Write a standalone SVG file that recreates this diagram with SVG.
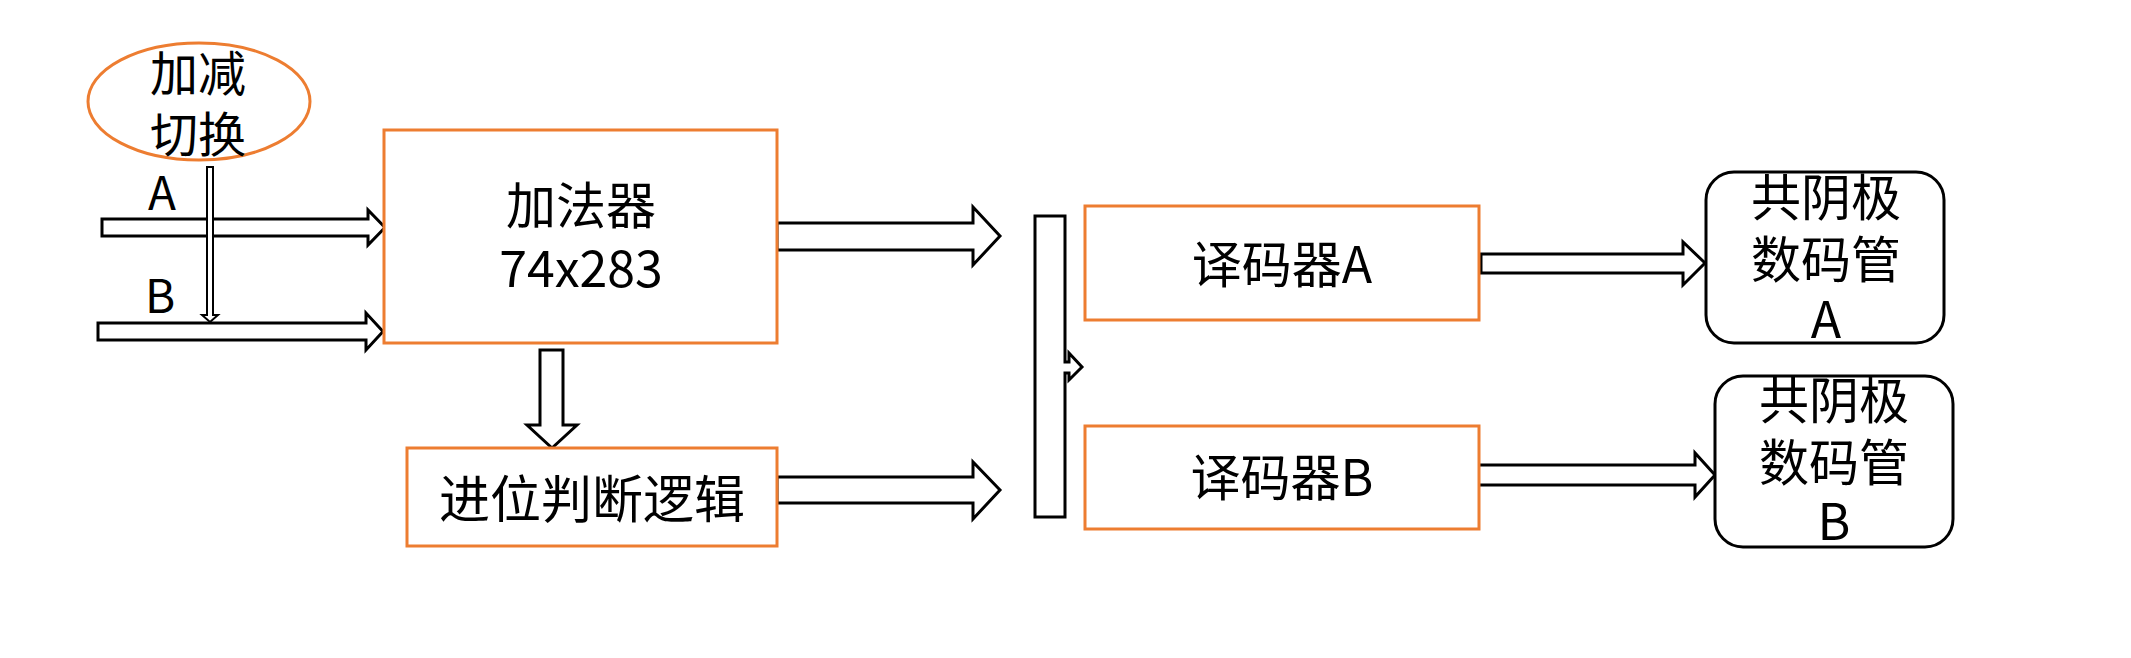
<svg xmlns="http://www.w3.org/2000/svg" width="2131" height="658" viewBox="0 0 2131 658">
<style>
.ob{fill:#fff;stroke:#ED7D31;stroke-width:3}
.rb{fill:#fff;stroke:#000;stroke-width:3}
.ar{fill:#fff;stroke:#000;stroke-width:3;stroke-linejoin:miter}
.tx{font-family:"Noto Sans CJK SC","Noto Sans",sans-serif;fill:#000;text-anchor:middle}
</style>
<rect width="2131" height="658" fill="#fff"/>
<g id="connectors">
<polygon class="ar" points="102,219 368,219 368,210 385,227.5 368,245 368,236 102,236"/>
<polygon class="ar" points="98,323 366,323 366,313 383,331.5 366,350 366,340 98,340"/>
<polygon class="ar" style="stroke-width:2" points="207,167 213,167 213,315 218,315 210,322 202,315 207,315"/>
<polygon class="ar" points="540,350 563,350 563,425 577,425 552,448 527,425 540,425"/>
<polygon class="ar" points="777,223 973,223 973,207 1000,236 973,265 973,250 777,250"/>
<polygon class="ar" points="777,477 973,477 973,462 1000,490 973,519 973,503 777,503"/>
<polygon class="ar" points="1481,254 1683,254 1683,242 1705,263 1683,285 1683,273 1481,273"/>
<polygon class="ar" points="1477,465 1695,465 1695,453 1715,475 1695,497 1695,485 1477,485"/>
</g>
<g id="switch">
<ellipse class="ob" cx="199" cy="101.5" rx="111" ry="58.5"/>
<text class="tx" x="198" y="91" font-size="48">加减</text>
<text class="tx" x="198" y="152" font-size="48">切换</text>
</g>
<g id="labelA"><text class="tx" x="162" y="210" font-size="46">A</text></g>
<g id="labelB"><text class="tx" x="160" y="313" font-size="46">B</text></g>
<g id="adder">
<rect class="ob" x="384" y="130" width="393" height="213"/>
<text class="tx" x="581" y="224" font-size="50">加法器</text>
<text class="tx" x="581" y="287" font-size="50">74x283</text>
</g>
<g id="carry">
<rect class="ob" x="407" y="448" width="370" height="98"/>
<text class="tx" x="592" y="518" font-size="51">进位判断逻辑</text>
</g>
<g id="bus">
<polygon class="ar" points="1035,216 1065,216 1065,362 1069,362 1069,353 1082,367 1069,380 1069,373 1065,373 1065,517 1035,517"/>
</g>
<g id="decoderA">
<rect class="ob" x="1085" y="206" width="394" height="114"/>
<text class="tx" x="1282" y="283" font-size="50">译码器A</text>
</g>
<g id="decoderB">
<rect class="ob" x="1085" y="426" width="394" height="103"/>
<text class="tx" x="1282" y="496" font-size="50">译码器B</text>
</g>
<g id="displayA">
<rect class="rb" x="1706" y="172" width="238" height="171" rx="28" ry="28"/>
<text class="tx" x="1826" y="216" font-size="50">共阴极</text>
<text class="tx" x="1826" y="278" font-size="50">数码管</text>
<text class="tx" x="1826" y="338" font-size="50">A</text>
</g>
<g id="displayB">
<rect class="rb" x="1715" y="376" width="238" height="171" rx="28" ry="28"/>
<text class="tx" x="1834" y="419" font-size="50">共阴极</text>
<text class="tx" x="1834" y="481" font-size="50">数码管</text>
<text class="tx" x="1834" y="540" font-size="50">B</text>
</g>
</svg>
